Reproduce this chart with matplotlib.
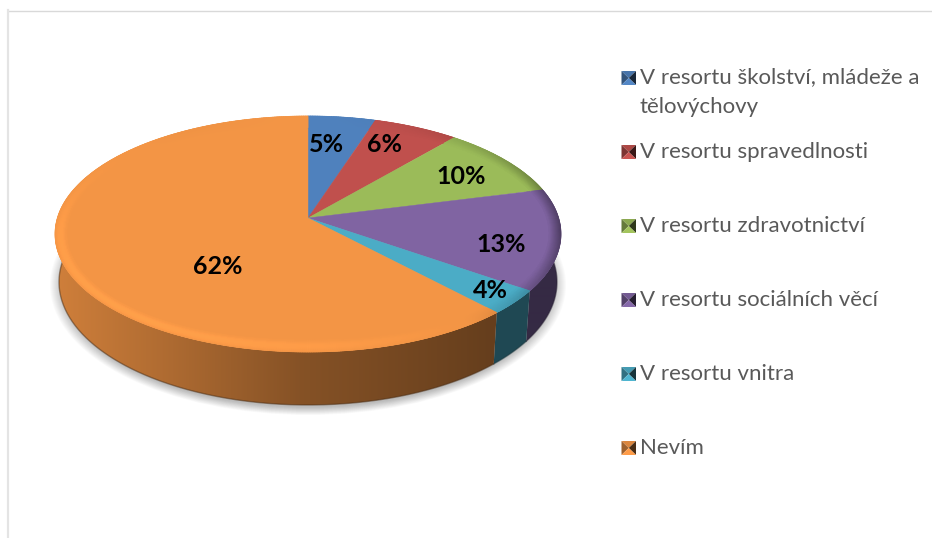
import numpy as np
import matplotlib
matplotlib.use("Agg")
import matplotlib.pyplot as plt
from matplotlib.collections import PolyCollection
from matplotlib.colors import to_rgb
from matplotlib.patches import Ellipse, Polygon

legend_labels = [
    "V resortu školství, mládeže a\ntělovýchovy",
    "V resortu spravedlnosti",
    "V resortu zdravotnictví",
    "V resortu sociálních věcí",
    "V resortu vnitra",
    "Nevím",
]
percent_labels = ["5%", "6%", "10%", "13%", "4%", "62%"]
# slice sizes as drawn: the 3d perspective squeezes them a bit vs. the printed labels
drawn_shares = [4.3, 5.5, 9.1, 14.1, 3.6, 63.4]
colors = ["#4f81bd", "#c0504d", "#9bbb59", "#8064a2", "#4bacc6", "#f39545"]

CX, CY, RX, RY = 308, 234, 253, 118
APEX = np.array([308.0, 218.0])
BOT_CY, BOT_RX, BOT_RY = 282, 249, 123
BEVEL = 12

plt.rcParams["font.family"] = ["Lato", "DejaVu Sans"]

fig = plt.figure(figsize=(9.32, 5.38), dpi=100)
ax = fig.add_axes([0, 0, 1, 1])
ax.set_xlim(0, 932)
ax.set_ylim(538, 0)
ax.axis("off")

# chart frame
ax.plot([8, 932], [10.5, 10.5], color="#d9d9d9", lw=1.0)
ax.plot([7.5, 7.5], [10, 538], color="#e4e4e4", lw=1.6)

# soft shadow under the disc
for i in range(14):
    ax.add_patch(Ellipse((308, 285), 2 * (258 - i), 2 * (130 - i * 0.6), fc="#000000", ec="none",
                         alpha=0.018, zorder=1))


def top_pt(t):
    return np.array([CX + RX * np.sin(t), CY - RY * np.cos(t)])


def bot_pt(t):
    return np.array([CX + BOT_RX * np.sin(t), BOT_CY - BOT_RY * np.cos(t)])


def inset_pt(t, d):
    p = top_pt(t)
    v = APEX - p
    return p + v * d / np.hypot(*v)


xs = np.arange(932)
shade = np.interp(xs, [58, 150, 300, 490, 560], [0.85, 0.74, 0.55, 0.42, 0.42])

bounds = np.radians(np.concatenate([[0], np.cumsum(drawn_shares)]) * 3.6)

for i in range(len(drawn_shares)):
    base = np.array(to_rgb(colors[i]))
    ts = np.linspace(bounds[i], bounds[i + 1], max(int(np.degrees(bounds[i + 1] - bounds[i])) * 2, 4))

    # side wall, horizontal gradient clipped to the wall outline
    wall_ts = ts[np.cos(ts) <= 0.5]
    if len(wall_ts) > 1:
        outline = [top_pt(t) for t in wall_ts] + [bot_pt(t) for t in wall_ts[::-1]]
        clip = Polygon(outline, closed=True, fc="none", ec="none", transform=ax.transData)
        ax.add_patch(clip)
        img = np.clip(shade[None, :, None] * base[None, None, :], 0, 1)
        im = ax.imshow(img, extent=(0, 932, 538, 0), aspect="auto", zorder=2, interpolation="bilinear")
        im.set_clip_path(clip)
        under = [bot_pt(t) for t in wall_ts]
        ax.plot([p[0] for p in under], [p[1] for p in under], color=base * 0.3, lw=1.0, alpha=0.5, zorder=2.5)

    # top face
    arc = [top_pt(t) for t in ts]
    ax.add_patch(Polygon([APEX] + arc, closed=True, fc=colors[i], ec=colors[i], lw=0.3, zorder=3))

    # bevelled rim
    polys = []
    cols = []
    for a, b in zip(ts[:-1], ts[1:]):
        mid = (a + b) / 2
        c = np.cos(mid - np.radians(230))
        weight = np.clip(1 - np.cos(mid), 0, 1)
        for d in range(BEVEL):
            if c >= 0:
                f = 1 + 0.08 * c * weight * np.sin(np.pi * (d + 1) / (BEVEL + 1))
            else:
                f = 1 + 0.5 * c * weight * (1 - d / BEVEL)
            polys.append([inset_pt(a, d), inset_pt(b, d), inset_pt(b, d + 1), inset_pt(a, d + 1)])
            cols.append(np.clip(base * f, 0, 1))
    ax.add_collection(PolyCollection(polys, facecolors=cols, edgecolors=cols, linewidths=0.5, zorder=4))

ax.set_xlim(0, 932)
ax.set_ylim(538, 0)

# data labels
label_xy = [(326, 144), (385, 145), (461, 177), (501, 245), (490, 291), (218, 267)]
for txt, (x, y) in zip(percent_labels, label_xy):
    ax.text(x, y, txt, ha="center", va="center", fontsize=18, fontweight="bold", color="black", zorder=6)

# legend, little pyramid style keys
legend_y = [78, 152, 226, 300, 374, 448]
for lab, col, y in zip(legend_labels, colors, legend_y):
    base = np.array(to_rgb(col))
    x0, x1, y0, y1 = 621.5, 636, y - 7, y + 7
    xm, ym = (x0 + x1) / 2, (y0 + y1) / 2
    faces = [
        ([(x0, y0), (x1, y0), (xm, ym)], 0.9),
        ([(x0, y0), (x0, y1), (xm, ym)], 0.65),
        ([(x1, y0), (x1, y1), (xm, ym)], 0.3),
        ([(x0, y1), (x1, y1), (xm, ym)], 1.05),
    ]
    for pts, f in faces:
        ax.add_patch(Polygon(pts, closed=True, fc=np.clip(base * f, 0, 1), ec="none", zorder=5))
    ax.text(640, y - 0.5, lab.split("\n")[0], ha="left", va="center", fontsize=16, color="#595959")
    if "\n" in lab:
        ax.text(640, y + 29, lab.split("\n")[1], ha="left", va="center", fontsize=16, color="#595959")

plt.savefig("out.png", dpi=100, facecolor="white")
